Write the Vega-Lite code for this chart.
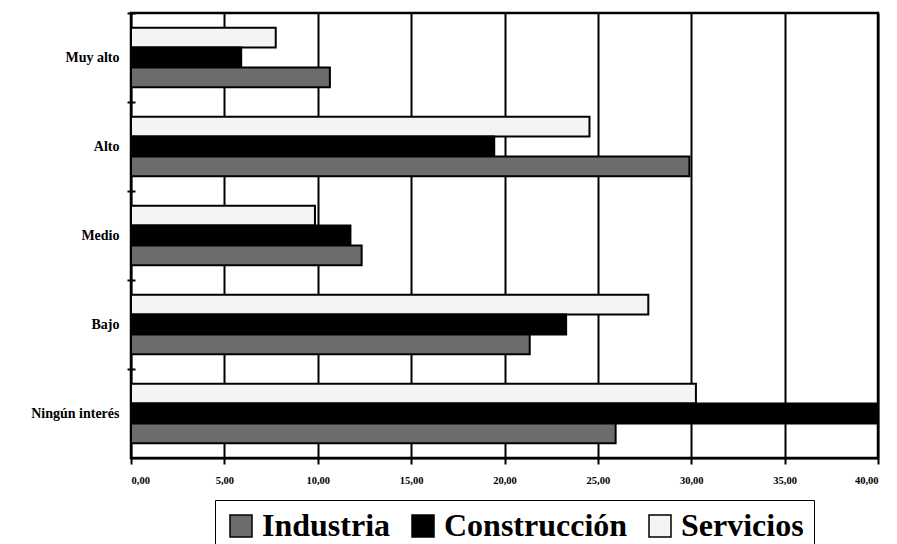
{
  "$schema": "https://vega.github.io/schema/vega-lite/v6.json",
  "width": 747,
  "height": 445,
  "autosize": {"type": "none"},
  "padding": {"left": 131, "top": 13, "right": 19, "bottom": 86},
  "background": "white",
  "config": {
    "font": "Liberation Serif, Times New Roman, serif",
    "view": {"stroke": "black", "strokeWidth": 2.5}
  },
  "data": {
    "values": [
      {"nivel": "Muy alto", "sector": "Servicios", "valor": 7.75},
      {"nivel": "Muy alto", "sector": "Construcción", "valor": 5.9},
      {"nivel": "Muy alto", "sector": "Industria", "valor": 10.65},
      {"nivel": "Alto", "sector": "Servicios", "valor": 24.55},
      {"nivel": "Alto", "sector": "Construcción", "valor": 19.45},
      {"nivel": "Alto", "sector": "Industria", "valor": 29.9},
      {"nivel": "Medio", "sector": "Servicios", "valor": 9.85},
      {"nivel": "Medio", "sector": "Construcción", "valor": 11.75},
      {"nivel": "Medio", "sector": "Industria", "valor": 12.35},
      {"nivel": "Bajo", "sector": "Servicios", "valor": 27.7},
      {"nivel": "Bajo", "sector": "Construcción", "valor": 23.3},
      {"nivel": "Bajo", "sector": "Industria", "valor": 21.35},
      {"nivel": "Ningún interés", "sector": "Servicios", "valor": 30.25},
      {"nivel": "Ningún interés", "sector": "Construcción", "valor": 39.9},
      {"nivel": "Ningún interés", "sector": "Industria", "valor": 25.95}
    ]
  },
  "encoding": {
    "y": {
      "field": "nivel",
      "type": "nominal",
      "sort": ["Muy alto", "Alto", "Medio", "Bajo", "Ningún interés"],
      "scale": {"paddingInner": 0.33, "paddingOuter": 0.165}
    },
    "x": {
      "field": "valor",
      "type": "quantitative",
      "scale": {"domain": [0, 40], "nice": false},
      "axis": {
        "title": null,
        "values": [0, 5, 10, 15, 20, 25, 30, 35, 40],
        "labelExpr": "replace(format(datum.value, '.2f'), '.', ',')",
        "labelFont": "Liberation Serif, Times New Roman, serif",
        "labelFontWeight": "bold",
        "labelFontSize": 10.5,
        "labelColor": "black",
        "labelPadding": 11,
        "grid": true,
        "gridColor": "black",
        "gridWidth": 2,
        "gridOpacity": 1,
        "domainColor": "black",
        "domainWidth": 2,
        "tickColor": "black",
        "tickWidth": 2,
        "tickSize": 6
      }
    }
  },
  "layer": [
    {
      "mark": {"type": "bar", "stroke": "black", "strokeWidth": 2},
      "encoding": {
        "y": {
          "field": "nivel",
          "type": "nominal",
          "sort": ["Muy alto", "Alto", "Medio", "Bajo", "Ningún interés"],
          "axis": {
            "title": null,
            "orient": "left",
            "labelFont": "Liberation Serif, Times New Roman, serif",
            "labelFontWeight": "bold",
            "labelFontSize": 14,
            "labelColor": "black",
            "labelPadding": 12,
            "ticks": false,
            "domain": false
          }
        },
        "yOffset": {
          "field": "sector",
          "type": "nominal",
          "sort": ["Servicios", "Construcción", "Industria"]
        },
        "color": {
          "field": "sector",
          "type": "nominal",
          "scale": {
            "domain": ["Industria", "Construcción", "Servicios"],
            "range": ["#6c6c6c", "#000000", "#f4f4f4"]
          },
          "legend": {
            "title": null,
            "orient": "none",
            "legendX": 84,
            "legendY": 487,
            "direction": "horizontal",
            "symbolType": "square",
            "symbolSize": 484,
            "symbolStrokeColor": "black",
            "symbolStrokeWidth": 1.5,
            "symbolOpacity": 1,
            "labelFont": "Liberation Serif, Times New Roman, serif",
            "labelFontWeight": "bold",
            "labelFontSize": 32,
            "labelColor": "black",
            "labelOffset": 5,
            "labelLimit": 400,
            "columnPadding": 16,
            "padding": 10,
            "strokeColor": "black",
            "fillColor": "white"
          }
        }
      }
    },
    {
      "mark": {"type": "bar", "opacity": 0},
      "encoding": {
        "y": {
          "field": "nivel",
          "type": "nominal",
          "sort": ["Muy alto", "Alto", "Medio", "Bajo", "Ningún interés"],
          "axis": {
            "title": null,
            "orient": "left",
            "labels": false,
            "domain": false,
            "grid": false,
            "bandPosition": -0.246,
            "ticks": true,
            "tickColor": "black",
            "tickWidth": 2,
            "tickSize": 8,
            "offset": -4
          }
        }
      }
    }
  ],
  "resolve": {"axis": {"y": "independent"}}
}
